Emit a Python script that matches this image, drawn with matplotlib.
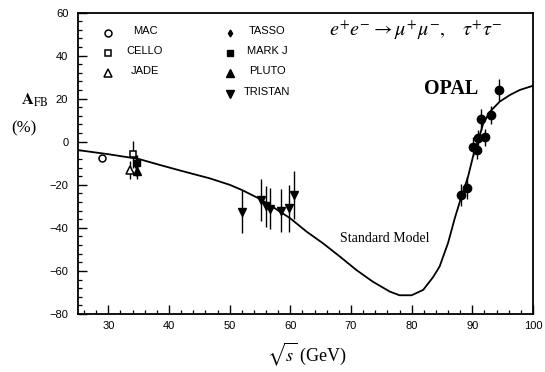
import matplotlib
matplotlib.use("Agg")
import matplotlib.pyplot as plt
from matplotlib.ticker import MultipleLocator

# ---------------- data ----------------
# Standard Model curve
sm_x = [25, 30, 35, 38.5, 42, 46.7, 50, 52, 55, 57.5, 60, 62.7, 65.4, 68.2,
        70.9, 73.6, 76.4, 78, 80, 81.9, 83.5, 84.6, 86, 87.1, 88.2, 89.3,
        90.1, 91, 91.8, 92.9, 94.5, 96.2, 97.8, 100]
sm_y = [-3.9, -5.8, -8.0, -10.8, -13.5, -17, -20, -22.4, -26.6, -31, -35.6,
        -41.8, -47.2, -53.4, -59.6, -65, -69.6, -71.3, -71.3, -68.8, -63,
        -58, -47, -35.6, -25.5, -16.2, -7, 0.8, 8.5, 13.9, 18.6, 21.7, 24, 26]

mac_x, mac_y, mac_e = [29.0], [-7.7], [1.2]
cello_x, cello_y, cello_e = [34.1], [-5.9], [6.4]
jade_x, jade_y, jade_e = [33.5], [-13.1], [4.0]
tasso_x, tasso_y, tasso_e = [34.5], [-11.0], [5.0]
markj_x, markj_y, markj_e = [34.7], [-10.0], [4.0]
pluto_x, pluto_y, pluto_e = [34.8], [-13.4], [4.0]

tristan_x = [52.0, 55.1, 56.0, 56.7, 58.4, 59.8, 60.6]
tristan_y = [-32.5, -27.1, -29.9, -31.2, -32.0, -30.9, -24.7]
tristan_e = [10.0, 9.6, 9.5, 9.5, 10.0, 11.0, 11.0]

opal_x = [88.2, 89.2, 90.1, 90.7, 91.0, 92.1, 91.4, 93.0, 94.4]
opal_y = [-24.7, -21.6, -2.3, -3.9, 1.6, 2.0, 10.4, 12.4, 24.0]
opal_e = [5.0, 5.0, 4.5, 4.0, 4.0, 4.0, 5.0, 4.0, 5.0]

x_ticks = [30, 40, 50, 60, 70, 80, 90, 100]
y_ticks = [-80, -60, -40, -20, 0, 20, 40, 60]

# ---------------- figure ----------------
plt.rcParams['font.family'] = ['Liberation Sans', 'DejaVu Sans']
plt.rcParams['mathtext.fontset'] = 'stix'

fig = plt.figure(figsize=(5.45, 3.72), dpi=100)
ax = fig.add_axes([78/545, 1-314/372, (533-78)/545, (314-12.5)/372])

ax.plot(sm_x, sm_y, color='black', lw=1.3, zorder=2)

eb = dict(fmt='none', ecolor='black', elinewidth=1.0, capsize=0, zorder=3)
ax.errorbar(mac_x, mac_y, yerr=mac_e, **eb)
ax.errorbar(cello_x, cello_y, yerr=cello_e, **eb)
ax.errorbar(jade_x, jade_y, yerr=jade_e, **eb)
ax.errorbar(tasso_x, tasso_y, yerr=tasso_e, **eb)
ax.errorbar(markj_x, markj_y, yerr=markj_e, **eb)
ax.errorbar(pluto_x, pluto_y, yerr=pluto_e, **eb)
ax.errorbar(tristan_x, tristan_y, yerr=tristan_e, **eb)
ax.errorbar(opal_x, opal_y, yerr=opal_e, **eb)

mk = dict(linestyle='none', color='black', zorder=4)
ax.plot(mac_x, mac_y, marker='o', ms=5, mfc='white', mew=1.1, **mk)
ax.plot(cello_x, cello_y, marker='s', ms=5, mfc='white', mew=1.1, **mk)
ax.plot(jade_x, jade_y, marker='^', ms=5.5, mfc='white', mew=1.1, **mk)
ax.plot(tasso_x, tasso_y, marker='d', ms=3.5, **mk)
ax.plot(markj_x, markj_y, marker='s', ms=5, **mk)
ax.plot(pluto_x, pluto_y, marker='^', ms=5.5, **mk)
ax.plot(tristan_x, tristan_y, marker='v', ms=6, **mk)
ax.plot(opal_x, opal_y, marker='o', ms=6, **mk)

ax.set_xlim(25, 100)
ax.set_ylim(-80, 60)
ax.set_xticks(x_ticks)
ax.set_yticks(y_ticks)
ax.xaxis.set_minor_locator(MultipleLocator(2))
ax.yaxis.set_minor_locator(MultipleLocator(4))
ax.tick_params(which='major', direction='in', length=6.5, width=1.0,
               labelsize=8, pad=5)
ax.tick_params(which='minor', direction='in', length=3, width=0.9)
ax.tick_params(axis='y', which='both', pad=7)
for s in ax.spines.values():
    s.set_linewidth(1.3)

# legend drawn as text + markers (axes fraction coords)
def axf(px, py):
    return ((px - 78) / 455, (314 - py) / 301.5)

legend_left = [('MAC', dict(marker='o', ms=5, mfc='white', mew=1.1)),
               ('CELLO', dict(marker='s', ms=5, mfc='white', mew=1.1)),
               ('JADE', dict(marker='^', ms=5.5, mfc='white', mew=1.1))]
legend_right = [('TASSO', dict(marker='d', ms=3.5)),
                ('MARK J', dict(marker='s', ms=5)),
                ('PLUTO', dict(marker='^', ms=5.5)),
                ('TRISTAN', dict(marker='v', ms=6))]
rows_py = [31, 51, 71, 92]
for (name, st), py in zip(legend_left, rows_py):
    mx, my = axf(108, py + 1.5)
    ax.plot([mx], [my], transform=ax.transAxes, color='black',
            linestyle='none', clip_on=False, **st)
    tx, ty = axf(145, py)
    ax.text(tx, ty, name, transform=ax.transAxes, ha='center', va='center',
            fontsize=8)
for (name, st), py in zip(legend_right, rows_py):
    mx, my = axf(230, py + 1.5)
    ax.plot([mx], [my], transform=ax.transAxes, color='black',
            linestyle='none', clip_on=False, **st)
    tx, ty = axf(267, py)
    ax.text(tx, ty, name, transform=ax.transAxes, ha='center', va='center',
            fontsize=8)

# annotations
ax.text(66.3, 51.9,
        r'$e^{+}e^{-}\rightarrow\mu^{+}\mu^{-},\quad\tau^{+}\tau^{-}$',
        fontsize=14.5, ha='left', va='center')
ax.text(82.0, 24.3, 'OPAL', family=['Liberation Serif', 'DejaVu Serif'],
        fontweight='bold', fontsize=14.5, ha='left', va='center')
ax.text(75.6, -44.8, 'Standard Model', family=['Liberation Serif', 'DejaVu Serif'],
        fontsize=10, ha='center', va='center')

# axis labels
fig.text(35/545, 1 - 100/372, r'$\mathbf{A}_{\mathrm{FB}}$', fontsize=12,
         ha='center', va='center')
fig.text(24/545, 1 - 128/372, '(%)', family=['Liberation Serif', 'DejaVu Serif'],
         fontsize=12, ha='center', va='center')
fig.text(307/545, 1 - 354/372, r'$\sqrt{s}$ (GeV)',
         family=['Liberation Serif', 'DejaVu Serif'], fontsize=13,
         ha='center', va='center')

fig.savefig('out.png', dpi=100)
